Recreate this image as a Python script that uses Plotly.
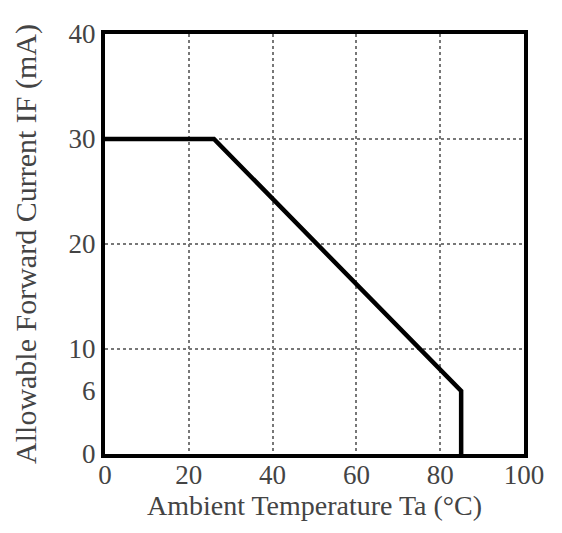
import plotly.graph_objects as go

temp = [0, 26, 85, 85]
current = [30, 30, 6, 0]
x_ticks = [0, 20, 40, 60, 80, 100]
y_ticks = [0, 6, 10, 20, 30, 40]
y_grid = [0, 10, 20, 30, 40]

fig = go.Figure()
fig.add_trace(go.Scatter(x=temp, y=current, mode="lines",
                         line=dict(color="black", width=4.5), showlegend=False))
# invisible trace for the grid axis
fig.add_trace(go.Scatter(x=[0], y=[0], mode="markers", marker=dict(opacity=0),
                         yaxis="y2", showlegend=False, hoverinfo="skip"))

tick_font = dict(family="Liberation Serif", size=27, color="#444")
xtitle_font = dict(family="Liberation Serif", size=28, color="#444")
ytitle_font = dict(family="Liberation Serif", size=30, color="#444")
fig.update_layout(
    width=554, height=525,
    margin=dict(l=97, r=38, t=26, b=79, autoexpand=False),
    paper_bgcolor="white", plot_bgcolor="white",
    font=tick_font,
    xaxis=dict(range=[0, 100], tickvals=x_ticks, showgrid=True, automargin=False,
               gridcolor="#777", griddash="dot", gridwidth=1.5,
               showline=True, linecolor="black", linewidth=4, mirror=True,
               zeroline=False, ticks="", tickfont=tick_font, ticklabelstandoff=-6,
               title=dict(text="Ambient Temperature Ta (°C)", font=xtitle_font, standoff=0)),
    yaxis=dict(range=[0, 40], tickvals=y_ticks, showgrid=False, automargin=False,
               showline=True, linecolor="black", linewidth=4, mirror=True,
               zeroline=False, ticks="", tickfont=tick_font,
               title=dict(text="Allowable Forward Current IF (mA)", font=ytitle_font, standoff=24)),
    yaxis2=dict(range=[0, 40], tickvals=y_grid, overlaying="y", showgrid=True,
                gridcolor="#777", griddash="dot", gridwidth=1.5, automargin=False,
                showticklabels=False, zeroline=False, side="right"),
)
fig.write_html("out.html")
